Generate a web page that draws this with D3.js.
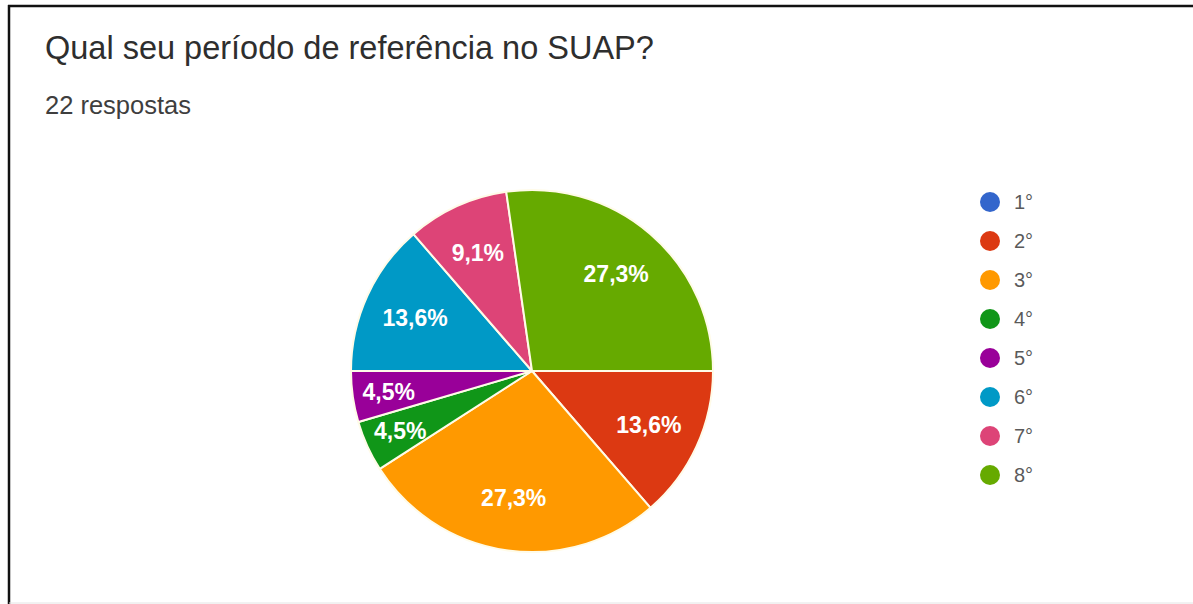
<!DOCTYPE html>
<html>
<head>
<meta charset="utf-8">
<script src="https://cdn.jsdelivr.net/npm/d3@7"></script>
<style>
  html, body { margin: 0; padding: 0; background: #fff; }
  svg { display: block; }
</style>
</head>
<body>
<svg id="chart" width="1193" height="604"></svg>
<script>
// Survey answers: "Qual seu período de referência no SUAP?" (22 responses)
const categories = ["1°", "2°", "3°", "4°", "5°", "6°", "7°", "8°"];
const counts = [0, 3, 6, 1, 1, 3, 2, 6];
const colors = ["#3366cc", "#dc3912", "#ff9900", "#109618", "#990099", "#0099c6", "#dd4477", "#66aa00"];
const title = "Qual seu período de referência no SUAP?";
const subtitle = "22 respostas";

const svg = d3.select("#chart");
const W = 1193, H = 604;
const FONT = "'Liberation Sans', Arial, sans-serif";

// card frame
svg.append("rect").attr("x", 0).attr("y", 0).attr("width", W).attr("height", H).attr("fill", "#fff");
svg.append("line").attr("x1", 8).attr("x2", W).attr("y1", 6).attr("y2", 6)
  .attr("stroke", "#111").attr("stroke-width", 2.5);
svg.append("line").attr("x1", 9).attr("x2", 9).attr("y1", 5).attr("y2", H)
  .attr("stroke", "#111").attr("stroke-width", 2.5);
svg.append("line").attr("x1", 9).attr("x2", W).attr("y1", H - 1).attr("y2", H - 1)
  .attr("stroke", "#e4e4e4").attr("stroke-width", 1);

svg.append("text").attr("x", 45).attr("y", 59)
  .attr("font-family", FONT)
  .attr("font-size", 32.5).attr("fill", "#2e2e2e").text(title);
svg.append("text").attr("x", 45).attr("y", 114)
  .attr("font-family", FONT)
  .attr("font-size", 25.5).attr("fill", "#3e3e3e").text(subtitle);

// pie
const cx = 532, cy = 371, R = 181;
const total = d3.sum(counts);
const data = categories.map((c, i) => ({ cat: c, value: counts[i], color: colors[i] }));

const pie = d3.pie().value(d => d.value).sort(null)
  .startAngle(Math.PI / 2).endAngle(Math.PI / 2 + 2 * Math.PI);
const arcs = pie(data).filter(a => a.data.value > 0);
const arc = d3.arc().innerRadius(0).outerRadius(R);

const g = svg.append("g").attr("transform", `translate(${cx},${cy})`);
g.selectAll("path.slice").data(arcs).join("path")
  .attr("class", "slice")
  .attr("d", arc)
  .attr("fill", d => d.data.color)
  .attr("stroke", "#fffbe8").attr("stroke-width", 2).attr("stroke-linejoin", "round");

// labels sit further out on narrow slices
const fmt = v => (Math.round(v / total * 1000) / 10).toFixed(1).replace(".", ",") + "%";
g.selectAll("text.pct").data(arcs).join("text")
  .attr("class", "pct")
  .attr("transform", d => {
    const span = d.endAngle - d.startAngle;
    const r = span < 0.45 ? R * 0.8 : (span < 0.7 ? R * 0.72 : R * 0.71);
    const a = (d.startAngle + d.endAngle) / 2;
    return `translate(${r * Math.sin(a)},${-r * Math.cos(a)})`;
  })
  .attr("text-anchor", "middle").attr("dy", "0.36em")
  .attr("font-family", FONT)
  .attr("font-size", 23).attr("font-weight", "bold")
  .attr("fill", "#fff")
  .text(d => fmt(d.data.value));

// legend
const lg = svg.append("g").attr("transform", "translate(990,202)");
const item = lg.selectAll("g").data(data).join("g")
  .attr("transform", (d, i) => `translate(0,${i * 39})`);
item.append("circle").attr("r", 10).attr("fill", d => d.color);
item.append("text").attr("x", 24).attr("dy", "0.36em")
  .attr("font-family", FONT)
  .attr("font-size", 20).attr("fill", "#5a5a5a").text(d => d.cat);
</script>
</body>
</html>
